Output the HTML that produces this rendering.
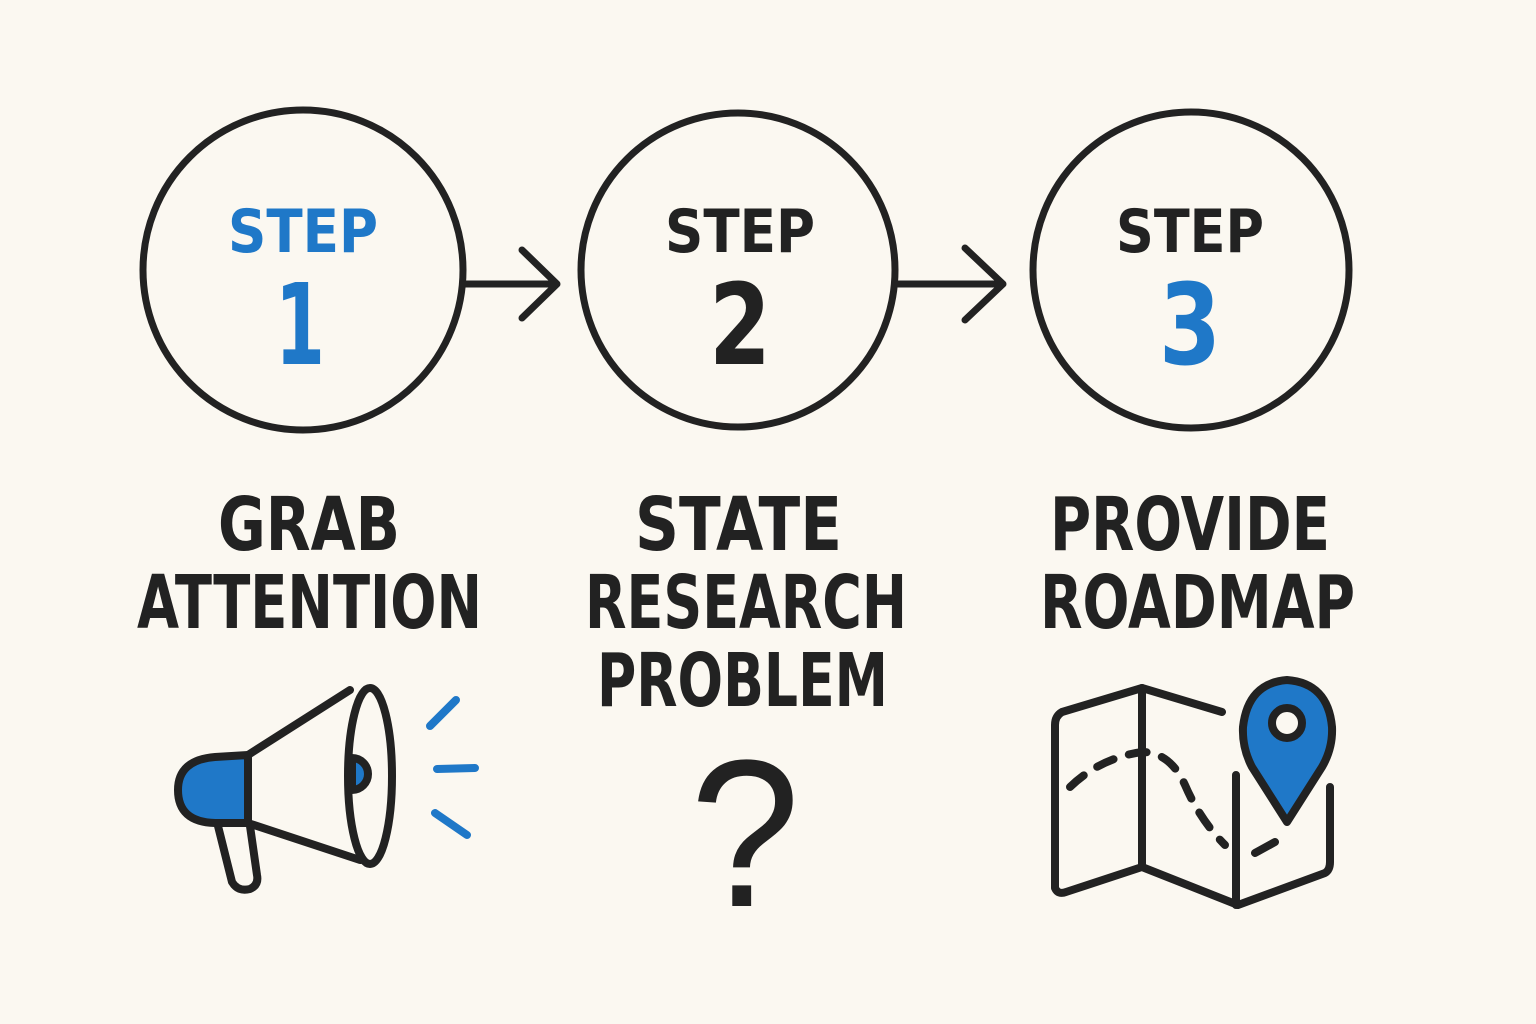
<!DOCTYPE html>
<html><head><meta charset="utf-8"><style>
html,body{margin:0;padding:0;background:#fbf8f1;}
svg{display:block}
text{font-family:"DejaVu Sans","Liberation Sans",sans-serif;}
</style></head><body>
<svg width="1536" height="1024" viewBox="0 0 1536 1024" xmlns="http://www.w3.org/2000/svg">
<rect width="1536" height="1024" fill="#fbf8f1"/>
<g fill="none" stroke="#222" stroke-width="7" stroke-linecap="round" stroke-linejoin="round">
<circle cx="303" cy="270" r="160"/>
<circle cx="738" cy="270" r="157"/>
<circle cx="1191" cy="270" r="158"/>
<path d="M465 284 H557 M522 250 L557 284 L522 318"/>
<path d="M898 284 H1003 M965 248 L1003 284 L965 320"/>
</g>
<g text-anchor="middle" style="font-weight:bold">
<text x="303" y="252" font-size="60" fill="#1f78c8" textLength="150" lengthAdjust="spacingAndGlyphs">STEP</text>
<text x="300" y="364" font-size="112" fill="#1f78c8" textLength="50" lengthAdjust="spacingAndGlyphs">1</text>
<text x="740" y="252" font-size="60" fill="#222" textLength="150" lengthAdjust="spacingAndGlyphs">STEP</text>
<text x="740" y="364" font-size="112" fill="#222" textLength="62" lengthAdjust="spacingAndGlyphs">2</text>
<text x="1190" y="252" font-size="60" fill="#222" textLength="148" lengthAdjust="spacingAndGlyphs">STEP</text>
<text x="1190" y="364" font-size="112" fill="#1f78c8" textLength="62" lengthAdjust="spacingAndGlyphs">3</text>
</g>
<g font-size="74" fill="#222" style="font-weight:bold">
<text x="218" y="550" textLength="182" lengthAdjust="spacingAndGlyphs">GRAB</text>
<text x="137" y="628" textLength="345" lengthAdjust="spacingAndGlyphs">ATTENTION</text>
<text x="635" y="550" textLength="207" lengthAdjust="spacingAndGlyphs">STATE</text>
<text x="585" y="628" textLength="322" lengthAdjust="spacingAndGlyphs">RESEARCH</text>
<text x="597" y="706" textLength="291" lengthAdjust="spacingAndGlyphs">PROBLEM</text>
<text x="1050" y="550" textLength="280" lengthAdjust="spacingAndGlyphs">PROVIDE</text>
<text x="1040" y="628" textLength="315" lengthAdjust="spacingAndGlyphs">ROADMAP</text>
</g>
<text x="745" y="906" font-size="210" fill="#222" text-anchor="middle" style="font-family:'Liberation Sans',sans-serif;font-weight:normal" textLength="110" lengthAdjust="spacingAndGlyphs">?</text>
<!-- megaphone -->
<g stroke="#222" stroke-width="8" stroke-linejoin="round" stroke-linecap="round">
<path d="M218 826 L232 882 Q238 892 250 889 Q259 885 257 875 L250 826" fill="#fbf8f1"/>
<path d="M248 755 L215 757 Q178 760 178 790 Q178 822 215 823 L248 823 Z" fill="#1f78c8"/>
<path d="M248 755 L350 690 M248 823 L360 860" fill="none"/>
<ellipse cx="370" cy="776" rx="22" ry="88" fill="none"/>
<path d="M352 758 A16 16 0 0 1 352 790 Z" fill="#1f78c8"/>
</g>
<g stroke="#1f78c8" stroke-width="8" stroke-linecap="round">
<path d="M430 726 L456 700 M437 769 L475 768 M435 813 L467 835"/>
</g>
<!-- map -->
<g fill="none" stroke="#222" stroke-width="8" stroke-linecap="round" stroke-linejoin="round">
<path d="M1222 712 L1142 688 L1062 712 Q1055 716 1055 725 L1055 888 Q1058 895 1066 892 L1142 867 L1238 905 L1325 873 Q1330 870 1330 862 L1330 787"/>
<path d="M1142 688 V867 M1236 775 V905"/>
<path d="M1070 787 Q1100 758 1142 752 Q1170 752 1185 785 Q1200 820 1225 845" stroke-dasharray="18 16"/>
<path d="M1255 853 L1275 842"/>
<path d="M1287 822 L1252 767 Q1242 748 1243 727 Q1248 683 1287 680 Q1328 683 1332 727 Q1333 748 1322 767 Z" fill="#1f78c8"/>
<circle cx="1287" cy="723" r="15" fill="#fbf8f1"/>
</g>
</svg>
</body></html>
